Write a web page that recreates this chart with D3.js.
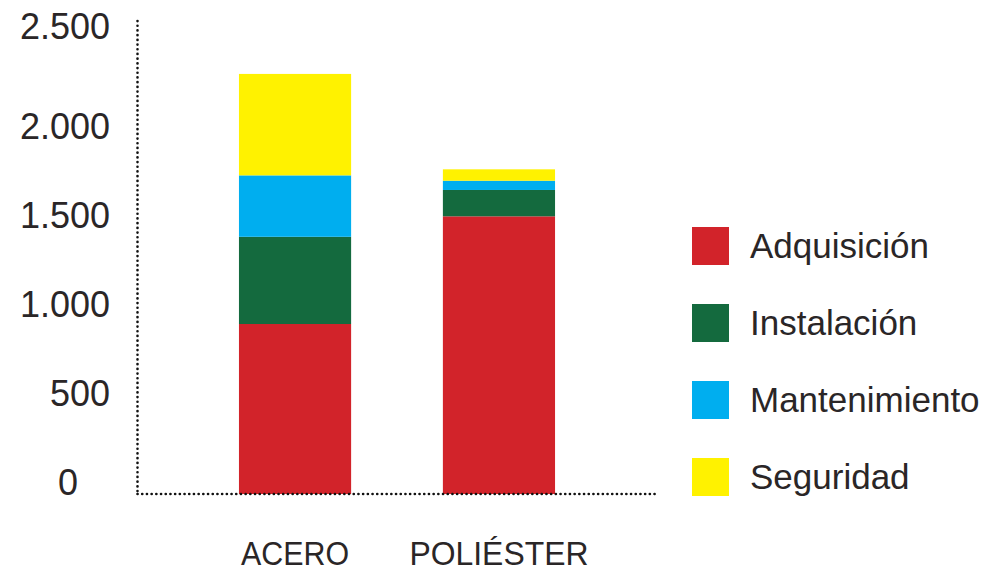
<!DOCTYPE html>
<html><head><meta charset="utf-8">
<script src="https://cdn.jsdelivr.net/npm/d3@7"></script>
<style>
html,body{margin:0;padding:0;background:#fff;}
svg{display:block;}
text{font-family:"Liberation Sans","Arial",sans-serif;fill:#2a2627;}
</style></head>
<body>
<svg id="chart" width="1000" height="576"></svg>
<script>
const categories = ["ACERO", "POLIÉSTER"];
const seriesNames = ["Adquisición", "Instalación", "Mantenimiento", "Seguridad"];
const adquisicion = [955, 1560];
const instalacion = [490, 148];
const mantenimiento = [345, 52];
const seguridad = [570, 64];
const tickValues = [0, 500, 1000, 1500, 2000, 2500];
const tickLabels = ["0", "500", "1.000", "1.500", "2.000", "2.500"];
const colors = ["#d2232a", "#146a3e", "#00aeef", "#fff200"];

const seriesValues = [adquisicion, instalacion, mantenimiento, seguridad];
const rows = categories.map((c, i) => {
  const r = {cat: c};
  seriesNames.forEach((s, j) => r[s] = seriesValues[j][i]);
  return r;
});

const svg = d3.select("#chart");
const x = d3.scaleBand().domain(categories).range([137, 657]).paddingInner(0.45).paddingOuter(0.5);
const y = d3.scaleLinear().domain([0, 2500]).range([494, 49]);
const color = d3.scaleOrdinal().domain(seriesNames).range(colors);

const stack = d3.stack().keys(seriesNames)(rows);

svg.append("g").selectAll("g").data(stack).join("g")
  .attr("fill", d => color(d.key))
  .selectAll("rect").data(d => d).join("rect")
  .attr("x", d => x(d.data.cat))
  .attr("width", x.bandwidth())
  .attr("y", d => y(d[1]))
  .attr("height", d => y(d[0]) - y(d[1]));

// dotted axes
const dot = {stroke: "#111", "stroke-width": 2.6, "stroke-dasharray": "0.1 4.6", "stroke-linecap": "round"};
const vline = svg.append("line").attr("x1", 137.5).attr("x2", 137.5).attr("y1", 21).attr("y2", y(0));
const hline = svg.append("line").attr("x1", 137.5).attr("x2", 657).attr("y1", y(0)).attr("y2", y(0));
[vline, hline].forEach(l => Object.entries(dot).forEach(([k, v]) => l.attr(k, v)));

// y tick labels
svg.append("g").selectAll("text").data(tickValues).join("text")
  .attr("x", (d) => d === 0 ? 68 : 110)
  .attr("text-anchor", d => d === 0 ? "middle" : "end")
  .attr("y", (d, i) => i === tickValues.length - 1 ? 39 : y(d) - 12 + 13)
  .attr("font-size", 36)
  .text((d, i) => tickLabels[i]);

// x labels
svg.append("g").selectAll("text").data(categories).join("text")
  .attr("x", d => x(d) + x.bandwidth() / 2)
  .attr("y", 565)
  .attr("text-anchor", "middle")
  .attr("font-size", 34)
  .attr("textLength", (d, i) => i === 0 ? 108 : 179)
  .attr("lengthAdjust", "spacingAndGlyphs")
  .text(d => d);

// legend
const leg = svg.append("g").selectAll("g").data(seriesNames).join("g")
  .attr("transform", (d, i) => `translate(692, ${227 + i * 77})`);
leg.append("rect").attr("width", 37).attr("height", 38).attr("fill", d => color(d));
leg.append("text").attr("x", 58).attr("y", 31).attr("font-size", 35).text(d => d);
</script>
</body></html>
